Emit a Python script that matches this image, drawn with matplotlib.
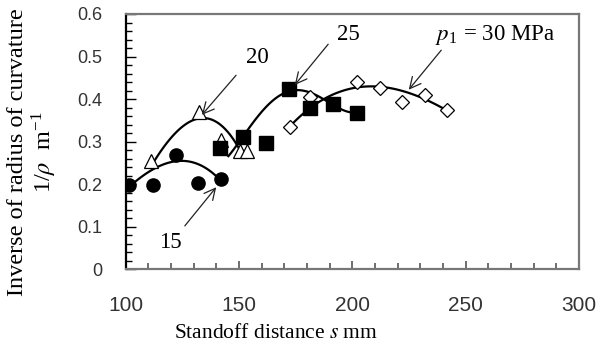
"""
Inverse of radius of curvature vs standoff distance
"""

import numpy as np
import matplotlib
matplotlib.use('Agg')
import matplotlib.pyplot as plt
from matplotlib.ticker import MultipleLocator

plt.rcParams['mathtext.fontset'] = 'stix'

# 측정점 (p1 = 15, 20, 25, 30 MPa)
s_15 = [101.5, 112, 122, 132, 142]
k_15 = [0.197, 0.197, 0.268, 0.203, 0.213]

s_20 = [111, 132.5, 142, 150.5, 153.5]
k_20 = [0.255, 0.370, 0.305, 0.277, 0.277]

s_25 = [141.8, 151.6, 161.9, 172, 181.3, 191.6, 201.9]
k_25 = [0.285, 0.312, 0.296, 0.423, 0.378, 0.388, 0.367]

s_30 = [172.5, 181.5, 202, 212.2, 221.8, 232, 241.9]
k_30 = [0.335, 0.405, 0.441, 0.425, 0.394, 0.410, 0.374]

# 추세선
trend_s_15 = [101.9, 106.3, 112.2, 119.5, 126.2, 132.8, 137.2, 141.6]
trend_k_15 = [0.198, 0.210, 0.237, 0.253, 0.2545, 0.245, 0.229, 0.2115]

trend_s_20 = [112, 119.5, 127, 134, 139, 143, 147.5, 150.5]
trend_k_20 = [0.250, 0.304, 0.343, 0.358, 0.350, 0.331, 0.305, 0.280]

trend_s_25 = [145.3, 149.7, 153.4, 160.7, 166.6, 172, 178.4, 184.3, 187.9, 191.6, 197, 201.9]
trend_k_25 = [0.267, 0.296, 0.323, 0.374, 0.406, 0.421, 0.417, 0.406, 0.398, 0.386, 0.376, 0.367]

trend_s_30 = [172.5, 181.3, 188.7, 196, 206.3, 213.7, 224, 232.8, 241.6]
trend_k_30 = [0.337, 0.378, 0.402, 0.421, 0.431, 0.429, 0.414, 0.398, 0.374]


def smooth(xs, ys, deg):
    coef = np.polyfit(xs, ys, deg)
    xx = np.linspace(min(xs), max(xs), 120)
    return xx, np.polyval(coef, xx)


fig = plt.figure(figsize=(6.01, 3.48), dpi=100)
ax = fig.add_axes([0.2092, 0.2261, 0.7542, 0.7337])

# 추세선
for xs, ys, deg in [(trend_s_15, trend_k_15, 3), (trend_s_20, trend_k_20, 3),
                    (trend_s_25, trend_k_25, 4), (trend_s_30, trend_k_30, 3)]:
    xx, yy = smooth(xs, ys, deg)
    ax.plot(xx, yy, color='black', lw=1.6, zorder=2)

# 마커
ax.plot(s_15, k_15, 'o', ms=9.5, color='black', zorder=3)
ax.plot(s_20, k_20, '^', ms=9.5, mfc='white', mec='black', mew=0.9, zorder=3)
ax.plot(s_30, k_30, 'D', ms=7.5, mfc='white', mec='black', mew=0.9, zorder=3)
ax.plot(s_25, k_25, 's', ms=9.5, color='black', zorder=4)

# 화살표 + 라벨
arrow = dict(arrowstyle='->', lw=0.9, color='#222222', mutation_scale=20)
ax.annotate('', xy=(140.7, 0.198), xytext=(125.3, 0.097), arrowprops=arrow, zorder=5)
ax.annotate('', xy=(132.8, 0.358), xytext=(149.5, 0.461), arrowprops=arrow, zorder=5)
ax.annotate('', xy=(173.8, 0.428), xytext=(190.1, 0.534), arrowprops=arrow, zorder=5)
ax.annotate('', xy=(224.1, 0.417), xytext=(240.0, 0.520), arrowprops=arrow, zorder=5)

serif = 'Liberation Serif'
ax.text(119.5, 0.064, '15', family=serif, fontsize=16.5, ha='center', va='center')
ax.text(157.9, 0.497, '20', family=serif, fontsize=16.5, ha='center', va='center')
ax.text(198.1, 0.551, '25', family=serif, fontsize=16.5, ha='center', va='center')
ax.text(262.9, 0.551, r'$p$$_{\mathregular{1}}$ = 30 MPa', family=serif, fontsize=16.5,
        ha='center', va='center')

# 축
ax.set_xlim(100, 300)
ax.set_ylim(0, 0.6)
ax.xaxis.set_major_locator(MultipleLocator(50))
ax.xaxis.set_minor_locator(MultipleLocator(10))
ax.yaxis.set_major_locator(MultipleLocator(0.1))
ax.yaxis.set_minor_locator(MultipleLocator(0.02))
ax.set_yticks(np.arange(0, 0.61, 0.1))
ax.set_yticklabels(['0', '0.1', '0.2', '0.3', '0.4', '0.5', '0.6'])

ax.tick_params(axis='x', which='both', direction='in', color='#555555', width=1.2)
ax.tick_params(axis='x', which='major', length=6, pad=19, labelsize=15, labelcolor='#333333')
ax.tick_params(axis='x', which='minor', length=4)
ax.tick_params(axis='y', which='both', direction='in', color='black', width=1.0)
ax.tick_params(axis='y', which='major', length=7, pad=17, labelsize=13, labelcolor='#333333')
ax.tick_params(axis='y', which='minor', length=4)
for lab in ax.get_xticklabels() + ax.get_yticklabels():
    lab.set_family('Liberation Sans')

ax.spines['left'].set_color('black')
ax.spines['left'].set_linewidth(1.6)
for side in ['bottom', 'top', 'right']:
    ax.spines[side].set_color('#777777')
    ax.spines[side].set_linewidth(1.6)

fig.text(0.46, 1 - 334 / 348, r'Standoff distance $s$ mm', family=serif, fontsize=15.5,
         ha='center', va='center')
fig.text(33 / 601, 1 - 152 / 348,
         'Inverse of radius of curvature\n' + r'1/$\rho$  m$^{\mathregular{-1}}$',
         family=serif, fontsize=17.5, rotation=90, ha='center', va='center',
         linespacing=1.1, multialignment='center')

fig.savefig('out.png', dpi=100)
